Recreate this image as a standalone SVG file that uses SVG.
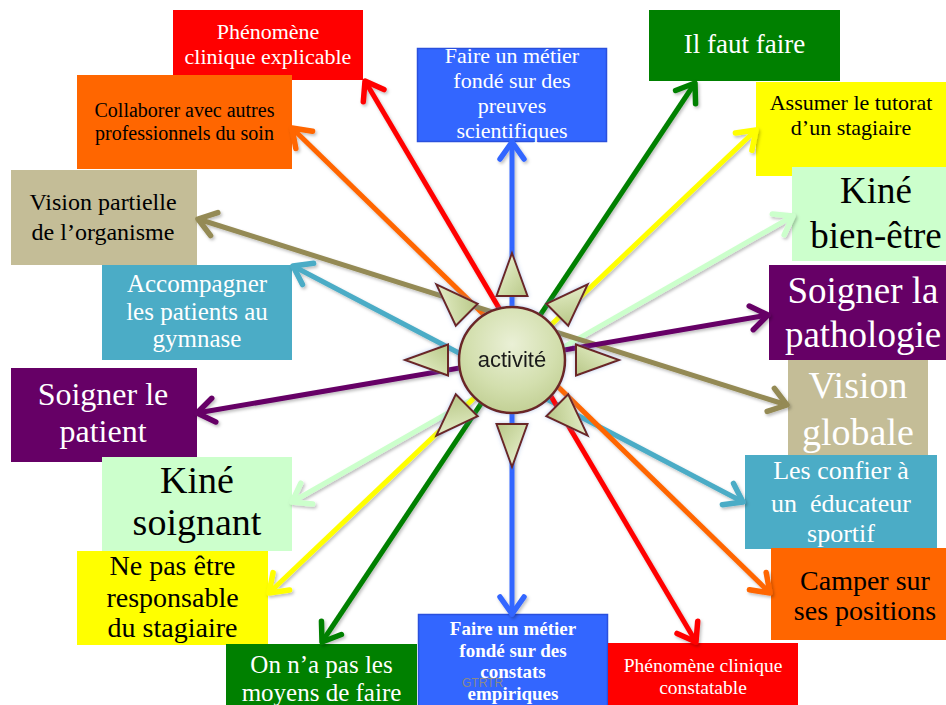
<svg xmlns="http://www.w3.org/2000/svg" width="946" height="705" viewBox="0 0 946 705">
<style>
.t{font-family:"Liberation Serif","Times New Roman",serif;text-anchor:middle}
.w{fill:#ffffff}
.k{fill:#000000}
.ln{stroke-width:5;fill:none}
.ah{fill:none;stroke-width:5.5;stroke-linecap:round;stroke-linejoin:round}
.tri{fill:url(#gTri);stroke:#6B2828;stroke-width:2}
</style>
<defs>
<filter id="sh" x="-10%" y="-10%" width="120%" height="120%">
<feDropShadow dx="1.5" dy="2" stdDeviation="1.5" flood-color="#000" flood-opacity="0.25"/>
</filter>
<filter id="glow" x="-30%" y="-30%" width="160%" height="160%">
<feDropShadow dx="0" dy="0" stdDeviation="2" flood-color="#7090d0" flood-opacity="0.45"/>
</filter>
<radialGradient id="gCirc" cx="0.5" cy="0.35" r="0.7">
<stop offset="0" stop-color="#EAF0D6"/>
<stop offset="0.6" stop-color="#D3DFAE"/>
<stop offset="1" stop-color="#BFCD90"/>
</radialGradient>
<linearGradient id="gTri" x1="0" y1="0" x2="1" y2="1">
<stop offset="0" stop-color="#F2F6E2"/>
<stop offset="0.5" stop-color="#D3DFAE"/>
<stop offset="1" stop-color="#B8C788"/>
</linearGradient>
<marker id="mR" viewBox="-24 -16 30 32" markerWidth="30" markerHeight="32" refX="0" refY="0" markerUnits="userSpaceOnUse" orient="auto-start-reverse" overflow="visible"><path class="ah" stroke="#FF0000" d="M-17,-12 L0,0 L-17,12"/></marker>
<marker id="mO" viewBox="-24 -16 30 32" markerWidth="30" markerHeight="32" refX="0" refY="0" markerUnits="userSpaceOnUse" orient="auto-start-reverse" overflow="visible"><path class="ah" stroke="#FF6600" d="M-17,-12 L0,0 L-17,12"/></marker>
<marker id="mT" viewBox="-24 -16 30 32" markerWidth="30" markerHeight="32" refX="0" refY="0" markerUnits="userSpaceOnUse" orient="auto-start-reverse" overflow="visible"><path class="ah" stroke="#948A54" d="M-17,-12 L0,0 L-17,12"/></marker>
<marker id="mC" viewBox="-24 -16 30 32" markerWidth="30" markerHeight="32" refX="0" refY="0" markerUnits="userSpaceOnUse" orient="auto-start-reverse" overflow="visible"><path class="ah" stroke="#4BACC6" d="M-17,-12 L0,0 L-17,12"/></marker>
<marker id="mP" viewBox="-24 -16 30 32" markerWidth="30" markerHeight="32" refX="0" refY="0" markerUnits="userSpaceOnUse" orient="auto-start-reverse" overflow="visible"><path class="ah" stroke="#660066" d="M-17,-12 L0,0 L-17,12"/></marker>
<marker id="mL" viewBox="-24 -16 30 32" markerWidth="30" markerHeight="32" refX="0" refY="0" markerUnits="userSpaceOnUse" orient="auto-start-reverse" overflow="visible"><path class="ah" stroke="#CCFFCC" d="M-17,-12 L0,0 L-17,12"/></marker>
<marker id="mY" viewBox="-24 -16 30 32" markerWidth="30" markerHeight="32" refX="0" refY="0" markerUnits="userSpaceOnUse" orient="auto-start-reverse" overflow="visible"><path class="ah" stroke="#FFFF00" d="M-17,-12 L0,0 L-17,12"/></marker>
<marker id="mG" viewBox="-24 -16 30 32" markerWidth="30" markerHeight="32" refX="0" refY="0" markerUnits="userSpaceOnUse" orient="auto-start-reverse" overflow="visible"><path class="ah" stroke="#008000" d="M-17,-12 L0,0 L-17,12"/></marker>
<marker id="mB" viewBox="-24 -16 30 32" markerWidth="30" markerHeight="32" refX="0" refY="0" markerUnits="userSpaceOnUse" orient="auto-start-reverse" overflow="visible"><path class="ah" stroke="#3366FF" d="M-17,-12 L0,0 L-17,12"/></marker>
<path id="tri" class="tri" d="M512,253 L527.5,296 L496.5,296 Z"/>
</defs>

<rect width="946" height="705" fill="#ffffff"/>

<!-- nodes -->
<g id="n-phen-expl"><rect x="173" y="10" width="190" height="70" fill="#FF0000"/>
<text class="t w" font-size="22" x="268" y="39">Phénomène</text>
<text class="t w" font-size="22" x="268" y="64">clinique explicable</text></g>

<g id="n-collaborer"><rect x="77" y="75" width="215" height="94" fill="#FF6600"/>
<text class="t k" font-size="20" x="184.5" y="117">Collaborer avec autres</text>
<text class="t k" font-size="20" x="184.5" y="140">professionnels du soin</text></g>

<g id="n-vision-part"><rect x="11" y="170" width="186" height="95" fill="#C4BD97"/>
<text class="t k" font-size="24" x="103" y="210">Vision partielle</text>
<text class="t k" font-size="24" x="103" y="240">de l’organisme</text></g>

<g id="n-accompagner"><rect x="102" y="265" width="190" height="95" fill="#4BACC6"/>
<text class="t w" font-size="25" x="197" y="292">Accompagner</text>
<text class="t w" font-size="25" x="197" y="320">les patients au</text>
<text class="t w" font-size="25" x="197" y="347">gymnase</text></g>

<g id="n-soigner-patient"><rect x="11" y="368" width="186" height="94" fill="#660066"/>
<text class="t w" font-size="32" x="103" y="405">Soigner le</text>
<text class="t w" font-size="32" x="103" y="442">patient</text></g>

<g id="n-kine-soignant"><rect x="102" y="457" width="190" height="94" fill="#CCFFCC"/>
<text class="t k" font-size="38" x="197" y="493">Kiné</text>
<text class="t k" font-size="38" x="197" y="535">soignant</text></g>

<g id="n-ne-pas"><rect x="77" y="551" width="191" height="94" fill="#FFFF00"/>
<text class="t k" font-size="28" x="172.5" y="575">Ne pas être</text>
<text class="t k" font-size="28" x="172.5" y="607">responsable</text>
<text class="t k" font-size="28" x="172.5" y="637">du stagiaire</text></g>

<g id="n-pas-moyens"><rect x="226" y="644" width="191" height="70" fill="#008000"/>
<text class="t w" font-size="25" x="321.5" y="673">On n’a pas les</text>
<text class="t w" font-size="25" x="321.5" y="701">moyens de faire</text></g>

<g id="n-constats"><rect x="418.5" y="614.5" width="189" height="95" fill="#3366FF" stroke="#2A50DD" stroke-width="1.5"/>
<text class="t w" font-size="19" font-weight="bold" x="513" y="635">Faire un métier</text>
<text class="t w" font-size="19" font-weight="bold" x="513" y="657">fondé sur des</text>
<text class="t w" font-size="19" font-weight="bold" x="513" y="678">constats</text>
<text class="t w" font-size="19" font-weight="bold" x="513" y="700">empiriques</text>
<text font-family="Liberation Sans, Arial, sans-serif" font-size="12" fill="#8a8a8a" x="462" y="687">GTRTR</text></g>

<g id="n-phen-const"><rect x="608" y="643" width="190" height="70" fill="#FF0000"/>
<text class="t w" font-size="19.5" x="703" y="672">Phénomène clinique</text>
<text class="t w" font-size="19.5" x="703" y="694">constatable</text></g>

<g id="n-preuves"><rect x="417.5" y="48.5" width="189" height="93" fill="#3366FF" stroke="#2A50DD" stroke-width="1.5"/>
<text class="t w" font-size="22" x="512" y="63">Faire un métier</text>
<text class="t w" font-size="22" x="512" y="88">fondé sur des</text>
<text class="t w" font-size="22" x="512" y="113">preuves</text>
<text class="t w" font-size="22" x="512" y="138">scientifiques</text></g>

<g id="n-il-faut"><rect x="649" y="10" width="191" height="71" fill="#008000"/>
<text class="t w" font-size="27" x="744.5" y="53">Il faut faire</text></g>

<g id="n-tutorat"><rect x="756" y="82" width="200" height="94" fill="#FFFF00"/>
<text class="t k" font-size="22" x="851" y="110">Assumer le tutorat</text>
<text class="t k" font-size="22" x="851" y="135">d’un stagiaire</text></g>

<g id="n-kine-bien"><rect x="792" y="167" width="160" height="94" fill="#CCFFCC"/>
<text class="t k" font-size="37" x="876" y="203">Kiné</text>
<text class="t k" font-size="37" x="876" y="248">bien-être</text></g>

<g id="n-pathologie"><rect x="769" y="265" width="180" height="95" fill="#660066"/>
<text class="t w" font-size="37" x="863" y="303">Soigner la</text>
<text class="t w" font-size="37" x="863" y="347">pathologie</text></g>

<g id="n-vision-glob"><rect x="788" y="360" width="140" height="95" fill="#C4BD97"/>
<text class="t w" font-size="38" x="858" y="398">Vision</text>
<text class="t w" font-size="38" x="858" y="445">globale</text></g>

<g id="n-confier"><rect x="745" y="455" width="192" height="94" fill="#4BACC6"/>
<text class="t w" font-size="26" x="841" y="479">Les confier à</text>
<text class="t w" font-size="26" x="841" y="512" xml:space="preserve">un  éducateur</text>
<text class="t w" font-size="26" x="841" y="542">sportif</text></g>

<g id="n-camper"><rect x="771" y="548" width="180" height="92" fill="#FF6600"/>
<text class="t k" font-size="28" x="865" y="590">Camper sur</text>
<text class="t k" font-size="28" x="865" y="620">ses positions</text></g>

<!-- connectors -->
<g id="connectors" filter="url(#sh)">
<line class="ln" stroke="#4BACC6" x1="293" y1="266" x2="743" y2="502" marker-start="url(#mC)" marker-end="url(#mC)"/>
<line class="ln" stroke="#CCFFCC" x1="292" y1="502" x2="793" y2="216" marker-start="url(#mL)" marker-end="url(#mL)"/>
<line class="ln" stroke="#FFFF00" x1="269" y1="593" x2="756" y2="130" marker-start="url(#mY)" marker-end="url(#mY)"/>
<line class="ln" stroke="#FF6600" x1="292" y1="128" x2="770" y2="593" marker-start="url(#mO)" marker-end="url(#mO)"/>
<line class="ln" stroke="#948A54" x1="198" y1="219" x2="787" y2="405" marker-start="url(#mT)" marker-end="url(#mT)"/>
<line class="ln" stroke="#660066" x1="197" y1="413" x2="768" y2="315" marker-start="url(#mP)" marker-end="url(#mP)"/>
<line class="ln" stroke="#FF0000" x1="365" y1="81" x2="696" y2="642" marker-start="url(#mR)" marker-end="url(#mR)"/>
<line class="ln" stroke="#008000" x1="322" y1="642" x2="695" y2="83" marker-start="url(#mG)" marker-end="url(#mG)"/>
<line class="ln" stroke="#3366FF" x1="512" y1="142" x2="512" y2="614" marker-start="url(#mB)" marker-end="url(#mB)"/>
</g>

<!-- center -->
<g id="n-activite">
<g filter="url(#glow)">
<use href="#tri"/>
<use href="#tri" transform="rotate(45 512 360)"/>
<use href="#tri" transform="rotate(90 512 360)"/>
<use href="#tri" transform="rotate(135 512 360)"/>
<use href="#tri" transform="rotate(180 512 360)"/>
<use href="#tri" transform="rotate(225 512 360)"/>
<use href="#tri" transform="rotate(270 512 360)"/>
<use href="#tri" transform="rotate(315 512 360)"/>
<circle cx="512" cy="360" r="53" fill="url(#gCirc)" stroke="#6B2828" stroke-width="2.5"/>
</g>
<text x="512" y="367" font-family="Liberation Sans, Arial, sans-serif" font-size="22" text-anchor="middle" fill="#1a1a1a">activité</text>
</g>
</svg>
